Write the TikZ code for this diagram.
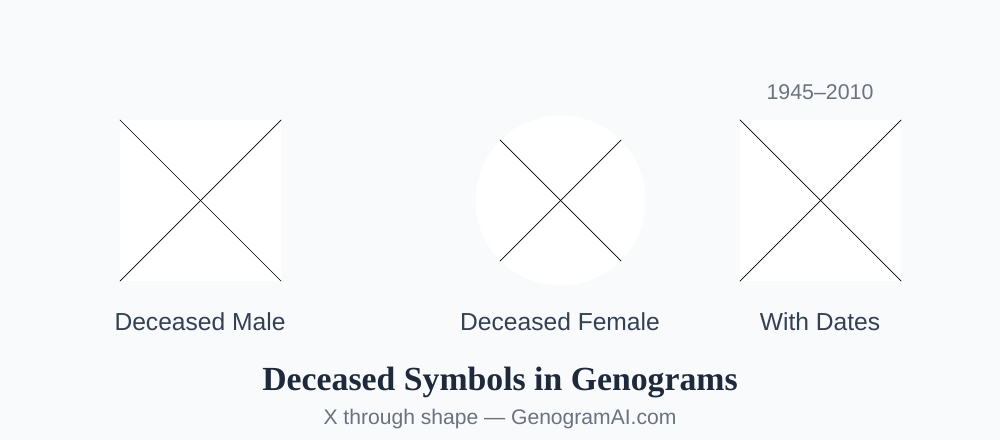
\documentclass[tikz,border=0pt]{standalone}
\usepackage{fontspec}
\setmainfont{Liberation Sans}
\newfontfamily\titlefont{Liberation Serif}
\usepackage{xcolor}
\definecolor{genoBg}{HTML}{F8FAFC}
\definecolor{genoTitle}{HTML}{1E293B}
\definecolor{genoLabel}{HTML}{334155}
\definecolor{genoMuted}{HTML}{6B7280}
\usetikzlibrary{positioning,calc}

\begin{document}
\begin{tikzpicture}[x=0.025cm, y=-0.025cm, font=\sffamily]

    % Background
    \fill[genoBg] (0,0) rectangle (1000,440);
    \useasboundingbox (0,0) rectangle (1000,440);

    \tikzset{
      symbolbox/.style={fill=white, draw=none, inner sep=0pt, minimum size=4.02cm},
      crossbox/.style={draw=none, inner sep=0pt, minimum size=3.02cm},
      deadline/.style={draw=black, line width=0.5pt},
      caption/.style={text=genoLabel, font=\fontsize{17.5}{20}\selectfont, anchor=base}
    }

    % Deceased male
    \node (male) [symbolbox, rectangle] at (200.5,200.5) {};
    \draw[deadline] (male.north west) -- (male.south east);
    \draw[deadline] (male.north east) -- (male.south west);
    \node (maleLabel) [caption] at (200,330) {Deceased Male};

    % Deceased female
    \node (female) [symbolbox, circle, minimum size=4.25cm] at (560.5,200.5) {};
    \node (femaleX) [crossbox] at (female.center) {};
    \draw[deadline] (femaleX.north west) -- (femaleX.south east);
    \draw[deadline] (femaleX.north east) -- (femaleX.south west);
    \node (femaleLabel) [caption] at (560,330) {Deceased Female};

    % With dates
    \node (dated) [symbolbox, rectangle] at (820.5,200.5) {};
    \draw[deadline] (dated.north west) -- (dated.south east);
    \draw[deadline] (dated.north east) -- (dated.south west);
    \node (dates) [text=genoMuted, font=\fontsize{15.2}{18}\selectfont, anchor=base] at (820,100) {1945--2010};
    \node (datedLabel) [caption] at (820,330) {With Dates};

    % Title
    \node (title) [text=genoTitle, font=\titlefont\bfseries\fontsize{24}{28}\selectfont, anchor=base] at (500,390) {Deceased Symbols in Genograms};
    \node (subtitle) [text=genoMuted, font=\fontsize{15}{18}\selectfont, anchor=base] at (500,424) {X through shape --- GenogramAI.com};

\end{tikzpicture}
\end{document}
